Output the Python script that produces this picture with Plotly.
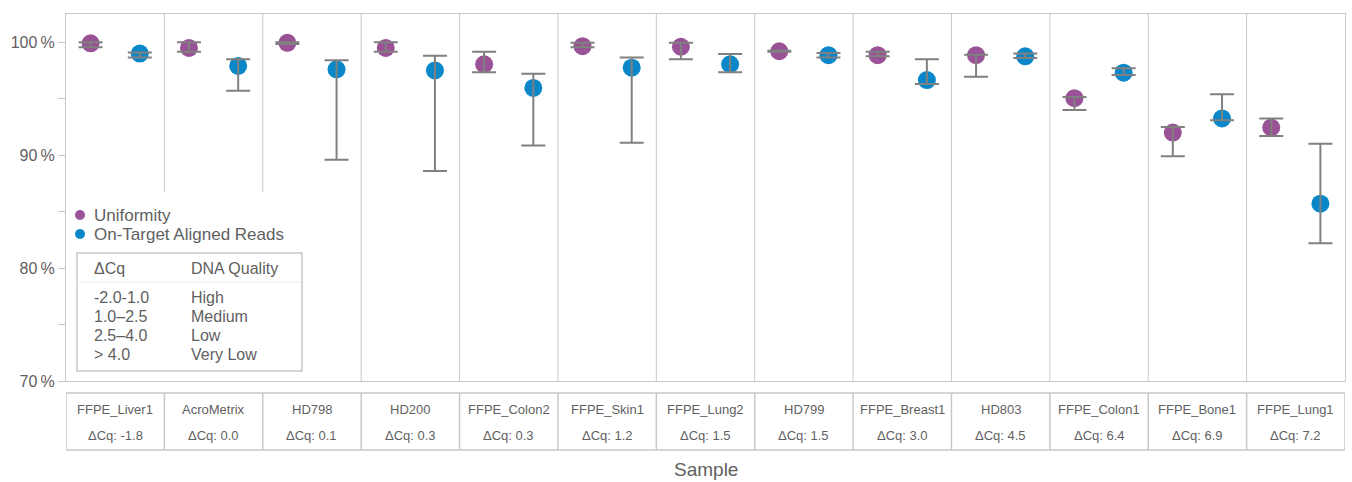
import plotly.graph_objects as go

samples = ["FFPE_Liver1", "AcroMetrix", "HD798", "HD200", "FFPE_Colon2", "FFPE_Skin1",
           "FFPE_Lung2", "HD799", "FFPE_Breast1", "HD803", "FFPE_Colon1", "FFPE_Bone1", "FFPE_Lung1"]
delta_cq = ["-1.8", "0.0", "0.1", "0.3", "0.3", "1.2", "1.5", "1.5", "3.0", "4.5", "6.4", "6.9", "7.2"]

uniformity = [99.9, 99.5, 99.95, 99.5, 98.05, 99.65, 99.6, 99.2, 98.85, 98.85, 95.05, 92.0, 92.45]
uniformity_hi = [100.0, 100.0, 100.0, 100.0, 99.15, 99.95, 99.95, 99.25, 99.15, 98.9, 95.15, 92.5, 93.25]
uniformity_lo = [99.55, 99.15, 99.85, 99.15, 97.35, 99.55, 98.5, 99.15, 98.75, 96.95, 94.0, 89.9, 91.7]

on_target = [99.0, 97.9, 97.6, 97.5, 95.95, 97.75, 98.05, 98.85, 96.65, 98.75, 97.3, 93.25, 85.7]
on_target_hi = [99.1, 98.5, 98.4, 98.8, 97.2, 98.65, 98.95, 99.05, 98.5, 99.0, 97.7, 95.4, 91.0]
on_target_lo = [98.65, 95.7, 89.6, 88.6, 90.85, 91.1, 97.35, 98.65, 96.3, 98.6, 97.1, 93.1, 82.2]

y_ticks = [70, 80, 90, 100]
y_tick_labels = ["70\u2009%", "80\u2009%", "90\u2009%", "100\u2009%"]

series_names = ["Uniformity", "On-Target Aligned Reads"]
quality_header = ["\u0394Cq", "DNA Quality"]
quality_ranges = ["-2.0-1.0", "1.0\u20132.5", "2.5\u20134.0", "> 4.0"]
quality_labels = ["High", "Medium", "Low", "Very Low"]

PURPLE = "#9a5297"
BLUE = "#0a87c9"
ERR = "#808080"
GRID = "#c8c8c8"
TXT = "#5f5f5f"
FONT = "Liberation Sans, Arial, sans-serif"

W, H = 1352, 482
ML, MR, MT, MB = 66, 7, 14, 101
PW, PH = W - ML - MR, H - MT - MB


def px_x(px):
    return (px - ML) / PW


def px_y(py):
    return (H - MB - py) / PH


n = len(samples)
idx = list(range(n))
xu = [i - 0.25 for i in idx]
xo = [i + 0.25 for i in idx]

fig = go.Figure()

fig.add_trace(go.Scatter(x=xu, y=uniformity, mode="markers", name=series_names[0],
                         marker=dict(color=PURPLE, size=18, line=dict(width=0))))
fig.add_trace(go.Scatter(x=xo, y=on_target, mode="markers", name=series_names[1],
                         marker=dict(color=BLUE, size=18, line=dict(width=0))))

for xs, vals, hi, lo in [(xu, uniformity, uniformity_hi, uniformity_lo),
                         (xo, on_target, on_target_hi, on_target_lo)]:
    fig.add_trace(go.Scatter(
        x=xs, y=vals, mode="markers", showlegend=False, hoverinfo="skip",
        marker=dict(size=1, opacity=0),
        error_y=dict(type="data", symmetric=False,
                     array=[h - v for h, v in zip(hi, vals)],
                     arrayminus=[v - l for v, l in zip(vals, lo)],
                     color=ERR, thickness=2, width=12)))

shapes = []
# column separators inside plot
for i in range(n - 1):
    y0 = 86.7 if i < 2 else 70
    shapes.append(dict(type="line", xref="x", yref="y", x0=i + 0.5, x1=i + 0.5, y0=y0, y1=102.5,
                       line=dict(color=GRID, width=1), layer="below"))

# sample table below the plot
tb_top, tb_bot = px_y(393), px_y(450)
shapes.append(dict(type="rect", xref="x", yref="paper", x0=-0.5, x1=n - 0.5, y0=tb_bot, y1=tb_top,
                   line=dict(color=GRID, width=1.5)))
for i in range(n - 1):
    shapes.append(dict(type="line", xref="x", yref="paper", x0=i + 0.5, x1=i + 0.5, y0=tb_bot, y1=tb_top,
                       line=dict(color=GRID, width=1.5)))

# legend (manual, to match the compact layout)
legend_y = [215, 234]
for color, ly in zip([PURPLE, BLUE], legend_y):
    shapes.append(dict(type="circle", xref="paper", yref="paper", xsizemode="pixel", ysizemode="pixel",
                       xanchor=px_x(80), yanchor=px_y(ly), x0=-5, x1=5, y0=-5, y1=5,
                       fillcolor=color, line=dict(width=0)))

# DNA quality key box
kx0, kx1 = px_x(77), px_x(302)
shapes.append(dict(type="rect", xref="paper", yref="paper", x0=kx0, x1=kx1, y0=px_y(371), y1=px_y(253),
                   line=dict(color=GRID, width=1.5), fillcolor="white"))
shapes.append(dict(type="line", xref="paper", yref="paper", x0=kx0, x1=kx1, y0=px_y(282), y1=px_y(282),
                   line=dict(color="#ebebeb", width=1)))

annotations = []
for name, ly in zip(series_names, legend_y):
    annotations.append(dict(x=px_x(92), y=px_y(ly), xref="paper", yref="paper", text=name, showarrow=False,
                            font=dict(size=17, color=TXT), xanchor="left", yanchor="middle"))

for i in idx:
    annotations.append(dict(x=i, y=px_y(409), xref="x", yref="paper", text=samples[i], showarrow=False,
                            font=dict(size=13, color=TXT), xanchor="center", yanchor="middle"))
    annotations.append(dict(x=i, y=px_y(436), xref="x", yref="paper", text="\u0394Cq: " + delta_cq[i],
                            showarrow=False, font=dict(size=13, color=TXT), xanchor="center", yanchor="middle"))

annotations.append(dict(x=0.5, y=px_y(470), xref="paper", yref="paper", text="Sample", showarrow=False,
                        font=dict(size=19, color=TXT), xanchor="center", yanchor="middle"))

c1x, c2x = px_x(92), px_x(189)
annotations.append(dict(x=c1x, y=px_y(268), xref="paper", yref="paper", text=quality_header[0], showarrow=False,
                        font=dict(size=16, color=TXT), xanchor="left", yanchor="middle"))
annotations.append(dict(x=c2x, y=px_y(268), xref="paper", yref="paper", text=quality_header[1], showarrow=False,
                        font=dict(size=16, color=TXT), xanchor="left", yanchor="middle"))
row_y = [297, 316, 335, 354]
for r, q, yy in zip(quality_ranges, quality_labels, row_y):
    annotations.append(dict(x=c1x, y=px_y(yy), xref="paper", yref="paper", text=r, showarrow=False,
                            font=dict(size=16, color=TXT), xanchor="left", yanchor="middle"))
    annotations.append(dict(x=c2x, y=px_y(yy), xref="paper", yref="paper", text=q, showarrow=False,
                            font=dict(size=16, color=TXT), xanchor="left", yanchor="middle"))

fig.update_layout(
    width=W, height=H,
    margin=dict(l=ML, r=MR, t=MT, b=MB, autoexpand=False),
    paper_bgcolor="white", plot_bgcolor="white",
    font=dict(family=FONT, color=TXT),
    showlegend=False,
    hovermode=False,
    xaxis=dict(range=[-0.5, n - 0.5], showgrid=False, zeroline=False, showticklabels=False,
               ticks="", showline=True, mirror=True, linecolor=GRID, linewidth=1, fixedrange=True,
               automargin=False),
    yaxis=dict(range=[70, 102.5], tickmode="array", tickvals=y_ticks, ticktext=y_tick_labels,
               showgrid=False, zeroline=False, automargin=False, fixedrange=True,
               ticks="outside", ticklen=7, tickcolor=GRID, tickfont=dict(size=16, color=TXT),
               showline=True, mirror=True, linecolor=GRID, linewidth=1,
               minor=dict(tickvals=[75, 85, 95], ticks="outside", ticklen=7, tickcolor=GRID)),
    shapes=shapes,
    annotations=annotations,
)

fig.write_html("out.html", config={"displayModeBar": False, "staticPlot": True},
               post_script="document.body.style.margin='0';document.body.style.overflow='hidden';")
